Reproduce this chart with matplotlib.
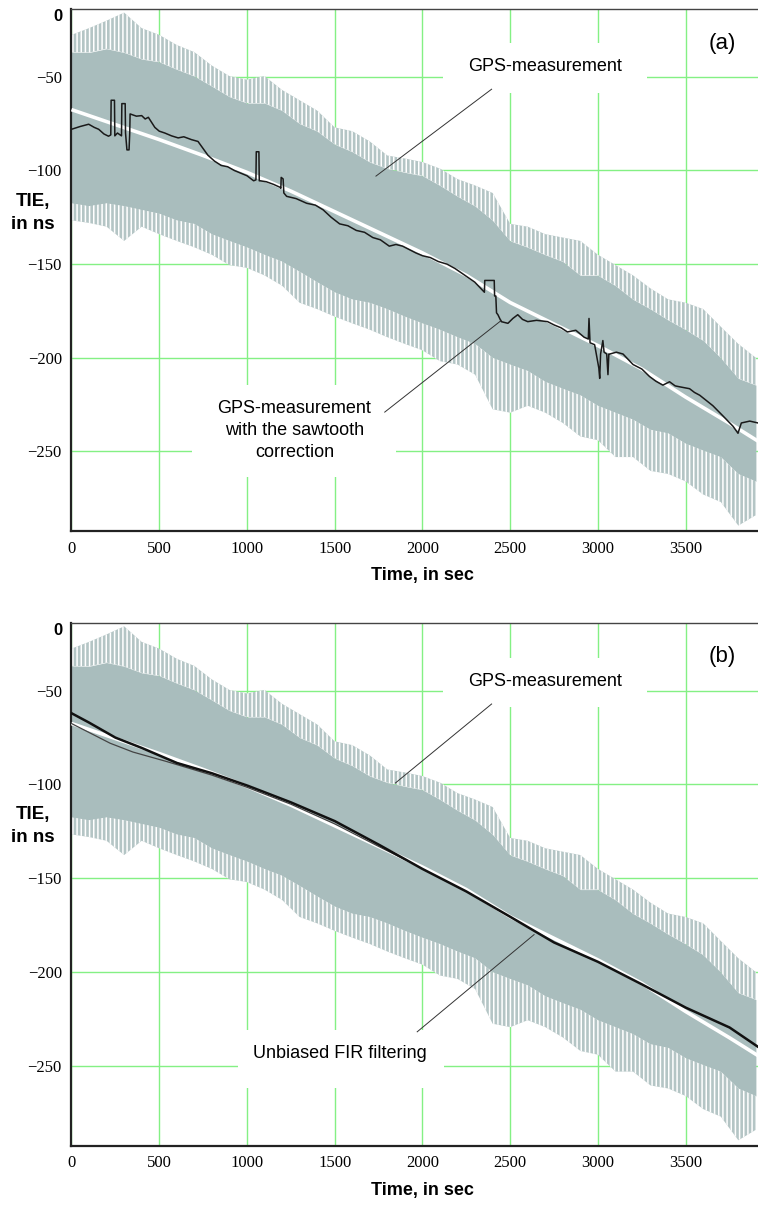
import matplotlib
matplotlib.use("Agg")
import matplotlib.pyplot as plt
from matplotlib.patches import Rectangle

# ---- data ----
# GPS measurement band (same record in both panels), every 100 s
band_t = [0, 100, 200, 300, 400, 500, 600, 700, 800, 900,
          1000, 1100, 1200, 1300, 1400, 1500, 1600, 1700, 1800, 1900,
          2000, 2100, 2200, 2300, 2400, 2500, 2600, 2700, 2800, 2900,
          3000, 3100, 3200, 3300, 3400, 3500, 3600, 3700, 3800, 3900]
up_tip = [-27.6, -24, -20, -15.7, -24, -27.6, -33, -36.8, -44, -49.6,
          -51.5, -49.6, -57, -62.5, -68, -77, -79, -84.5, -92, -93.6,
          -95.5, -99, -104.6, -108, -112, -128.5, -130, -134, -135.8, -137.6,
          -145, -150.5, -156, -163, -168.8, -170.6, -174, -183.4, -192.6, -200]
up_core = [-36.8, -37, -35, -37, -40.5, -42, -46, -49.6, -55, -60.6,
           -64, -64, -68, -75, -79, -86, -90, -95.5, -99, -101,
           -102.8, -108, -113.8, -119, -126.6, -137.6, -141, -145, -148.6, -156,
           -156, -161.5, -168.8, -174, -179.8, -185, -190.8, -200, -211, -214.6]
lo_core = [-117.5, -119, -117.5, -119, -121, -123, -126.6, -128.5, -134, -137.6,
           -141, -145, -148.6, -154, -159.6, -165, -168.8, -170.6, -174, -178,
           -181.6, -185, -189, -192.6, -200, -203.6, -207, -212.8, -216.5, -220,
           -225.6, -229.3, -233, -238.4, -240.3, -245.8, -249.5, -253, -262, -266]
lo_tip = [-126.6, -128, -130, -137.6, -130, -134, -137.6, -141, -145, -150.5,
          -152, -156, -161.5, -170.6, -174, -178, -181.6, -185, -189, -192.6,
          -196, -201.8, -203.6, -209, -227.5, -229.3, -225.6, -229.3, -234.8, -242,
          -244, -253, -253, -260.4, -262, -266, -273, -277, -289.6, -284]

# white reference line
ref_t = [0, 250, 500, 750, 1000, 1250, 1500, 1750, 2000, 2250, 2500, 2750,
         3000, 3250, 3500, 3750, 3912]
ref_v = [-67.5, -75.5, -83.5, -92, -101, -111, -122, -133, -144, -156, -170.5, -182,
         -193.5, -206, -221, -235, -244.5]

# (a) sawtooth-corrected measurement
saw_t = [0, 50, 98, 130, 155, 185, 211, 224, 226, 245, 247, 262, 285, 287, 306, 308, 316,
         328, 332, 334, 370, 400, 420, 438, 475, 500, 532, 570, 608, 640, 683, 721, 777,
         815, 853, 890, 928, 1000, 1038, 1051, 1053, 1068, 1070, 1075, 1110, 1151, 1189,
         1193, 1195, 1206, 1210, 1226, 1280, 1340, 1390, 1434, 1480, 1528, 1575, 1623,
         1670, 1717, 1760, 1811, 1849, 1887, 1962, 2000, 2045, 2090, 2140, 2185, 2242,
         2298, 2345, 2353, 2355, 2409, 2411, 2418, 2422, 2430, 2449, 2487, 2515, 2543,
         2570, 2600, 2650, 2713, 2751, 2790, 2826, 2874, 2921, 2945, 2949, 2955, 2981,
         3005, 3010, 3015, 3028, 3035, 3050, 3057, 3062, 3067, 3105, 3143, 3200, 3250,
         3294, 3330, 3370, 3408, 3440, 3466, 3522, 3550, 3580, 3620, 3655, 3712, 3770,
         3798, 3817, 3865, 3912]
saw_v = [-78, -76.5, -75.3, -77, -78, -80.5, -81.7, -81, -62.5, -62.5, -81.5, -80, -81.5,
         -64.3, -64.3, -80, -89, -89, -80, -69.8, -71, -70.7, -72.5, -71.6, -77, -79, -80,
         -81.5, -82.6, -82, -83.5, -84.5, -91.8, -95, -97.3, -98, -100, -102.8, -105.5,
         -105, -90, -90, -105.5, -105.5, -106, -107.4, -109, -109.5, -103.7, -104.5,
         -112, -113.8, -115, -117.5, -118.5, -121, -125, -128.5, -129.5, -132, -133,
         -135.8, -137, -140.4, -139.5, -140.4, -144, -145.5, -146.5, -148.6, -150,
         -152.3, -156, -159.6, -164.2, -165, -158.7, -158.7, -167, -167, -176, -177,
         -180.7, -181.6, -179, -177, -179.5, -180.7, -180, -180.7, -182.5, -184, -186.2,
         -185.3, -189, -190, -179, -192, -193, -205.5, -211, -198, -190.8, -197, -198,
         -209, -198, -198, -197, -198, -203.6, -206, -210, -212.5, -214.6, -212.8, -215,
         -215.5, -216.5, -218.5, -220, -223, -225.6, -231, -236.6, -240.3, -234.8,
         -233.8, -234.8]

# (b) unbiased FIR estimate and second thin estimate
fir_t = [0, 100, 250, 400, 600, 800, 1000, 1250, 1500, 1750, 2000, 2250, 2500,
         2750, 3000, 3250, 3500, 3750, 3912]
fir_v = [-62, -67, -75, -80.5, -88.5, -94, -100.5, -109.5, -119.5, -132, -145, -157,
         -170.5, -184.2, -194.5, -206.5, -218.9, -229.5, -239.8]
thin_t = [0, 220, 350, 540, 800, 1000, 1250, 1500, 1750, 1900]
thin_v = [-67.5, -78, -82.7, -87.7, -95, -101.5, -110.5, -121, -133, -140]

xticks = [0, 500, 1000, 1500, 2000, 2500, 3000, 3500]
yticks = [-50, -100, -150, -200, -250]

SANS = ["Liberation Sans", "DejaVu Sans"]
SERIF = ["Liberation Serif", "DejaVu Serif"]
GRAY = "#a9bdbd"
GREEN = "#84f084"

plt.rcParams["hatch.linewidth"] = 1.1

fig = plt.figure(figsize=(7.58, 12.05), dpi=100)
ax_a = fig.add_axes([0.0943, 0.5593, 0.9057, 0.4332])
ax_b = fig.add_axes([0.0943, 0.0492, 0.9057, 0.4340])


def setup(ax):
    ax.set_xlim(0, 3912)
    ax.set_ylim(-292.5, -13.8)
    ax.set_xticks(xticks)
    ax.set_yticks(yticks)
    ax.set_xticklabels([str(v) for v in xticks], family=SERIF, fontsize=12)
    ax.set_yticklabels(["\u2212" + str(-v) for v in yticks], family=SERIF, fontsize=12)
    ax.tick_params(length=0)
    ax.tick_params(axis="x", pad=7)
    ax.tick_params(axis="y", pad=7)
    ax.grid(True, color=GREEN, lw=1.0, zorder=0)
    ax.set_axisbelow(True)
    ax.spines["right"].set_visible(False)
    ax.spines["left"].set_linewidth(1.6)
    ax.spines["left"].set_color("#222222")
    ax.spines["bottom"].set_linewidth(1.6)
    ax.spines["bottom"].set_color("#222222")
    ax.spines["top"].set_linewidth(1.0)
    ax.spines["top"].set_color("#444444")
    ax.text(-0.013, 0.985, "0", transform=ax.transAxes, ha="right", va="center",
            family=SANS, fontsize=12, fontweight="bold")
    # measurement band: solid core and sparse spikes towards the tips
    ax.fill_between(band_t, lo_core, up_core, color=GRAY, lw=0, zorder=2)
    ax.fill_between(band_t, up_core, up_tip, facecolor="#b4c5c5", edgecolor="white",
                    hatch="||||", lw=0, zorder=2)
    ax.fill_between(band_t, lo_tip, lo_core, facecolor="#b4c5c5", edgecolor="white",
                    hatch="||||", lw=0, zorder=2)
    ax.plot(ref_t, ref_v, color="white", lw=2.6, zorder=3, solid_capstyle="butt")


setup(ax_a)
setup(ax_b)

# ---- panel (a) ----
ax_a.plot(saw_t, saw_v, color="#1a1a1a", lw=1.1, zorder=4)
ax_a.add_patch(Rectangle((2116, -58.7), 1163, 26.7, facecolor="white", edgecolor="none", zorder=1))
ax_a.add_patch(Rectangle((688, -263.4), 1164, 49, facecolor="white", edgecolor="none", zorder=1))
ax_a.text(2701, -44.3, "GPS-measurement", ha="center", va="center",
          family=SANS, fontsize=13, zorder=5)
ax_a.plot([2394, 1735], [-56.6, -103], color="#333333", lw=0.7, zorder=5)
ax_a.text(1270, -238.8, "GPS-measurement\nwith the sawtooth\ncorrection", ha="center",
          va="center", family=SANS, fontsize=13, linespacing=1.35, zorder=5)
ax_a.plot([1785, 2450], [-229, -180], color="#333333", lw=0.7, zorder=5)
ax_a.text(3711, -32, "(a)", ha="center", va="center", family=SANS, fontsize=16, zorder=5)

# ---- panel (b) ----
ax_b.plot(thin_t, thin_v, color="#444444", lw=0.9, zorder=4)
ax_b.plot(fir_t, fir_v, color="#111111", lw=1.8, zorder=4)
ax_b.add_patch(Rectangle((2116, -58.7), 1163, 26.2, facecolor="white", edgecolor="none", zorder=1))
ax_b.add_patch(Rectangle((951, -261.9), 1169, 31.1, facecolor="white", edgecolor="none", zorder=1))
ax_b.text(2701, -45.2, "GPS-measurement", ha="center", va="center",
          family=SANS, fontsize=13, zorder=5)
ax_b.plot([2394, 1846], [-57.1, -99.2], color="#333333", lw=0.7, zorder=5)
ax_b.text(1532, -243.3, "Unbiased FIR filtering", ha="center", va="center",
          family=SANS, fontsize=13, zorder=5)
ax_b.plot([1970, 2636], [-231.8, -180], color="#333333", lw=0.7, zorder=5)
ax_b.text(3711, -31.8, "(b)", ha="center", va="center", family=SANS, fontsize=16, zorder=5)

# axis titles
for ytime, ytie in [(575, 213), (1190, 826)]:
    fig.text(422 / 758, 1 - ytime / 1205, "Time, in sec", ha="center", va="center",
             family=SANS, fontsize=13, fontweight="bold")
    fig.text(33 / 758, 1 - ytie / 1205, "TIE,\nin ns", ha="center", va="center",
             family=SANS, fontsize=13.5, fontweight="bold", linespacing=1.4)

fig.savefig("out.png", dpi=100)
